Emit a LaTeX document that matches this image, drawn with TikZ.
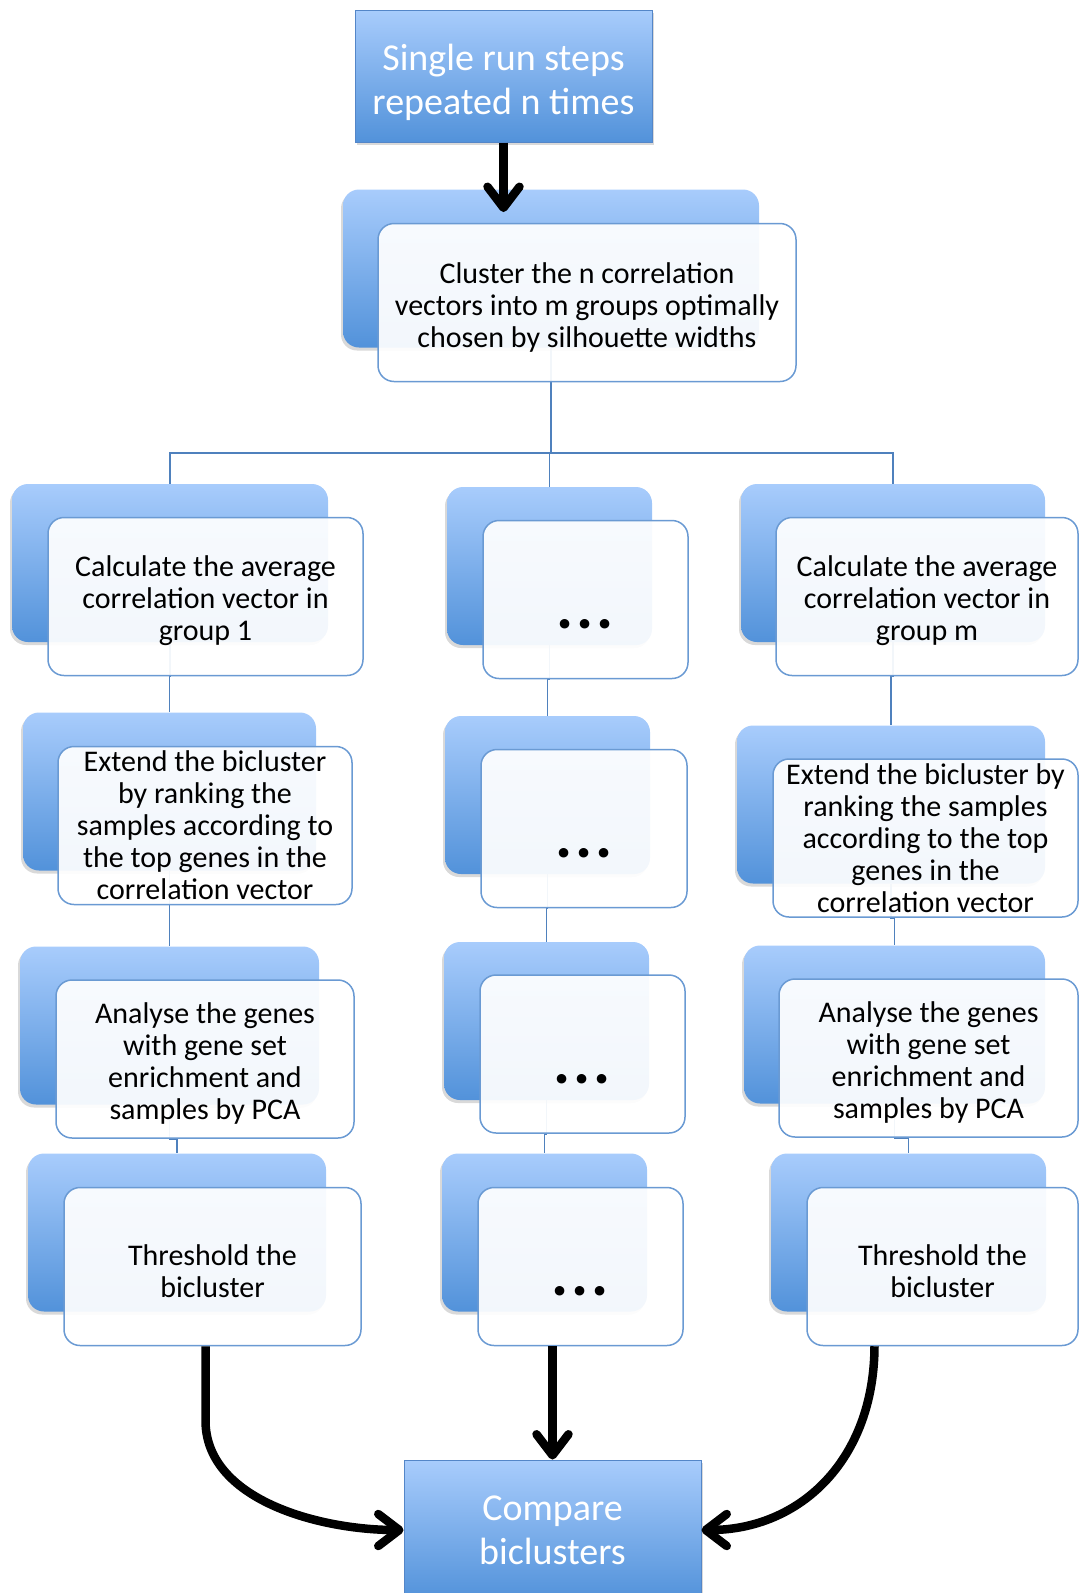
\documentclass[tikz,border=0pt]{standalone}
\usepackage{fontspec}
\setmainfont{Carlito}
\usetikzlibrary{arrows.meta,shadows,backgrounds}

\definecolor{cardtop}{RGB}{168,204,252}
\definecolor{cardbot}{RGB}{82,146,218}
\definecolor{cardline}{RGB}{106,154,211}
\definecolor{linkblue}{RGB}{79,129,189}
\definecolor{headline}{RGB}{84,134,200}

% first-line strut that pushes card text a little lower
\newcommand{\lift}{\rule{0pt}{30pt}}

\tikzset{
  backbox/.style={rounded corners=16pt, top color=cardtop, bottom color=cardbot,
    minimum height=158pt, inner sep=0pt,
    drop shadow={shadow xshift=-2pt, shadow yshift=-3pt, opacity=0.3}},
  frontbox/.style={rounded corners=16pt, draw=cardline, line width=1.5pt,
    fill=white, fill opacity=0.93, text opacity=1, minimum height=158pt,
    inner sep=0pt, align=center, font=\fontsize{30}{32}\selectfont},
  dotsbox/.style={frontbox, font=\fontsize{64}{64}\selectfont\bfseries,
    text height=58pt, text depth=0pt},
  headbox/.style={top color=cardtop, bottom color=cardbot, draw=headline,
    line width=1pt, minimum width=297pt, text=white, align=center,
    font=\fontsize{38}{44}\selectfont,
    drop shadow={shadow xshift=2pt, shadow yshift=-3pt, opacity=0.3}},
  link/.style={draw=linkblue, line width=1.5pt},
  flow/.style={line width=8.5pt, -{Straight Barb[length=21pt,width=32pt,round]}}
}

\begin{document}
\begin{tikzpicture}[x=1pt,y=-1pt]
\clip (0,0) rectangle (1079,1593);

% start and end
\node[headbox, minimum height=132pt] (top) at (503.5,76) {\rule{0pt}{40pt}Single run steps\\repeated n times};
\node[headbox, minimum height=140pt] (cmp) at (552.5,1530) {Compare\\biclusters};

% clustering step
\node[backbox, minimum width=416pt] (bc) at (551,268.5) {};
\node[frontbox, minimum width=418pt] (fc) at (587,302.5)
  {\lift Cluster the n correlation\\vectors into m groups optimally\\chosen by silhouette widths};

% row 1
\node[backbox, minimum width=316pt] (b11) at (170,563) {};
\node[frontbox, minimum width=315pt] (f11) at (205.5,596.5)
  {\lift Calculate the average\\correlation vector in\\group 1};
\node[backbox, minimum width=205pt] (b12) at (549.5,566) {};
\node[dotsbox, minimum width=205pt] (f12) at (585.5,599.5) {.\hspace{3pt}.\hspace{3pt}.};
\node[backbox, minimum width=304pt] (b13) at (893,563) {};
\node[frontbox, minimum width=302pt] (f13) at (927,596.5)
  {\lift Calculate the average\\correlation vector in\\group m};

% row 2
\node[backbox, minimum width=293pt] (b21) at (169.5,791.5) {};
\node[frontbox, minimum width=294pt] (f21) at (205,825.5)
  {Extend the bicluster\\by ranking the\\samples according to\\the top genes in the\\correlation vector};
\node[backbox, minimum width=205pt] (b22) at (547.5,795) {};
\node[dotsbox, minimum width=206pt] (f22) at (584,828.5) {.\hspace{3pt}.\hspace{3pt}.};
\node[backbox, minimum width=308pt] (b23) at (891,804.5) {};
\node[frontbox, minimum width=305pt] (f23) at (925.5,838)
  {Extend the bicluster by\\ranking the samples\\according to the top\\genes in the\\correlation vector};

% row 3
\node[backbox, minimum width=299pt] (b31) at (169.5,1025.5) {};
\node[frontbox, minimum width=298pt] (f31) at (205,1059)
  {\lift Analyse the genes\\with gene set\\enrichment and\\samples by PCA};
\node[backbox, minimum width=205pt] (b32) at (546.5,1021) {};
\node[dotsbox, minimum width=205pt] (f32) at (582.5,1054) {.\hspace{3pt}.\hspace{3pt}.};
\node[backbox, minimum width=301pt] (b33) at (894.5,1024.5) {};
\node[frontbox, minimum width=299pt] (f33) at (928.5,1058)
  {\lift Analyse the genes\\with gene set\\enrichment and\\samples by PCA};

% row 4
\node[backbox, minimum width=298pt] (b41) at (177,1232.5) {};
\node[frontbox, minimum width=297pt] (f41) at (212.5,1266.5) {\lift Threshold the\\bicluster};
\node[backbox, minimum width=205pt] (b42) at (544.5,1232.5) {};
\node[dotsbox, minimum width=205pt] (f42) at (580.5,1266.5) {.\hspace{3pt}.\hspace{3pt}.};
\node[backbox, minimum width=275pt] (b43) at (908.5,1232.5) {};
\node[frontbox, minimum width=271pt] (f43) at (942.5,1266.5) {\lift Threshold the\\bicluster};

% thin connectors behind the cards
\coordinate (split) at (551,453);
\begin{scope}[on background layer]
  \draw[link] (bc.south) -- (split);
  \draw[link] (b11.north) |- (split) -| (b13.north);
  \draw[link] (split) -| (b12.north);
  \foreach \c in {1,2,3}
    \foreach \r/\s in {1/2,2/3,3/4}
      \draw[link] (b\r\c.south) -- (b\r\c.south |- f\r\c.south) -| (b\s\c.north);
\end{scope}

% thick arrows
\coordinate (ctip) at (503.5,212);
\draw[flow] (top.south) -- (ctip);
\draw[flow] ([xshift=-7pt]f41.south) -- ([xshift=-7pt]f41.south |- 0,1420)
  .. controls (205,1500) and (320,1530) .. (cmp.west);
\draw[flow] (cmp.north |- f42.south) -- (cmp.north);
\draw[flow] ([xshift=-68pt]f43.south) .. controls (874,1460) and (800,1530) .. (cmp.east);
\end{tikzpicture}
\end{document}
